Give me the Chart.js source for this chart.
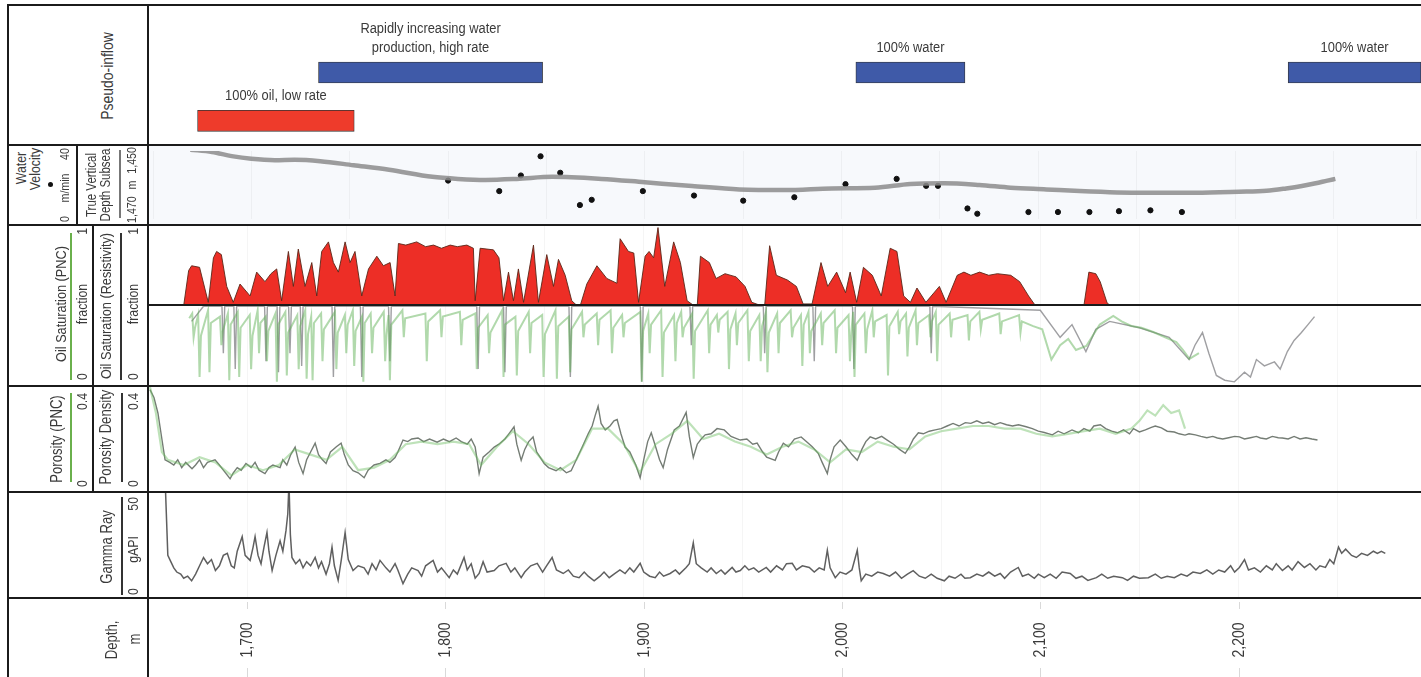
<!DOCTYPE html>
<html>
<head>
<meta charset="utf-8">
<script src="https://cdn.jsdelivr.net/npm/chart.js@4.4.1/dist/chart.umd.min.js"></script>
<style>
body { margin: 0; background: #fff; font-family: "Liberation Sans", sans-serif; color: #3a3a3a; }
#fig { position: relative; width: 1421px; height: 677px; overflow: hidden; }
canvas { position: absolute; }
.ln { position: absolute; background: #1b1b1b; }
.rot { position: absolute; transform: translate(-50%, -50%) rotate(-90deg) scaleX(0.82); white-space: nowrap; font-size: 15px; line-height: 1; }
.scale { display: flex; justify-content: space-between; }
.leg { position: absolute; width: 1.5px; }
</style>
</head>
<body>
<div id="fig"></div>
<script>
// depth axis
const depthTicks = [1700, 1800, 1900, 2000, 2100, 2200];
const depthTickLabels = ['1,700', '1,800', '1,900', '2,000', '2,100', '2,200'];

// pseudo-inflow intervals
const inflowText = ['100% oil, low rate', 'Rapidly increasing water\nproduction, high rate', '100% water', '100% water'];
const inflowFrom = [1675, 1736, 2007, 2225];
const inflowTo = [1754, 1849, 2062, 2292];
const inflowRow = ['oil', 'water', 'water', 'water'];

// true vertical depth subsea, m
const tvdDepth = [1669, 1680, 1690, 1700, 1712, 1722, 1735, 1752, 1770, 1792, 1805, 1819, 1835, 1853, 1878, 1900, 1924, 1948, 1971, 1995, 2017, 2035, 2052, 2070, 2086, 2104, 2121, 2140, 2156, 2180, 2202, 2216, 2226, 2234, 2241, 2247, 2251];
const tvd = [1449.6, 1450.3, 1451.5, 1452.3, 1452.7, 1452.6, 1453, 1454.2, 1455.5, 1457.6, 1458.2, 1458.5, 1458.2, 1457.6, 1458.2, 1459.2, 1460.3, 1461.3, 1461.5, 1461, 1460.8, 1459.7, 1459.5, 1460, 1460.8, 1461.3, 1461.8, 1462.2, 1462.3, 1462.3, 1462, 1461.7, 1461, 1460.3, 1459.5, 1458.7, 1458.2];

// water velocity, m/min
const velDepth = [1800, 1826, 1837, 1847, 1857, 1867, 1873, 1899, 1925, 1950, 1976, 2002, 2028, 2043, 2049, 2064, 2069, 2095, 2110, 2126, 2141, 2157, 2173];
const velocity = [22.6, 16.4, 25.6, 36.9, 27.2, 8.2, 11.3, 16.4, 13.8, 10.8, 12.8, 20.5, 23.6, 19.5, 19.5, 6.2, 3.1, 4.1, 4.1, 4.1, 4.6, 5.1, 4.1];

// oil saturation, upper (shaded) curve
const satUpDepth = [1668, 1670.5, 1672, 1676, 1680.4, 1683, 1684.6, 1687, 1689.7, 1693, 1696.4, 1701.5, 1704.8, 1709, 1712, 1714.9, 1717.4, 1720.8, 1723.3, 1725.8, 1729.2, 1732.6, 1735.1, 1737.6, 1741, 1743.5, 1746, 1749.4, 1751.9, 1754.4, 1757.8, 1761.2, 1765.4, 1768.7, 1772.1, 1774.6, 1776.3, 1780, 1785.5, 1790, 1794, 1798, 1802.4, 1806, 1810.8, 1814.1, 1815, 1817.5, 1824.2, 1827, 1829.3, 1831.8, 1834.3, 1836.8, 1839.4, 1844.4, 1846.9, 1851.1, 1854.5, 1857, 1860.4, 1863.7, 1866.3, 1868, 1871.3, 1876.4, 1881.4, 1886.5, 1888.1, 1892.3, 1895, 1897.4, 1900.7, 1902.7, 1905, 1907.2, 1910.6, 1915.1, 1918.5, 1921.9, 1925.2, 1927, 1928.6, 1933.1, 1936.5, 1941, 1946.6, 1951.1, 1954.5, 1959, 1961, 1963.5, 1966.9, 1972.5, 1977, 1980.4, 1984.9, 1989.4, 1992.8, 1997.3, 2001.8, 2004.1, 2007.4, 2010.8, 2015.3, 2019.8, 2024.3, 2027.7, 2031.1, 2034.5, 2037.8, 2042.3, 2049.1, 2052.5, 2058.1, 2061.5, 2065, 2069.4, 2074, 2078.4, 2085.1, 2089.6, 2094.1, 2097.5, 2122, 2124.5, 2128, 2130.2, 2133.6, 2135];
const satUp = [0.5, 0.72, 0.75, 0.74, 0.52, 0.8, 0.84, 0.82, 0.62, 0.52, 0.635, 0.56, 0.71, 0.65, 0.7, 0.73, 0.53, 0.84, 0.62, 0.855, 0.62, 0.77, 0.56, 0.84, 0.9, 0.77, 0.71, 0.9, 0.77, 0.84, 0.56, 0.73, 0.81, 0.75, 0.77, 0.56, 0.89, 0.88, 0.9, 0.87, 0.88, 0.86, 0.88, 0.87, 0.88, 0.86, 0.53, 0.86, 0.85, 0.8, 0.53, 0.71, 0.53, 0.73, 0.52, 0.88, 0.52, 0.82, 0.62, 0.79, 0.69, 0.53, 0.5, 0.5, 0.635, 0.75, 0.67, 0.64, 0.92, 0.84, 0.83, 0.52, 0.81, 0.84, 0.8, 0.99, 0.62, 0.9, 0.77, 0.53, 0.5, 0.5, 0.81, 0.77, 0.67, 0.7, 0.68, 0.62, 0.52, 0.5, 0.5, 0.876, 0.69, 0.66, 0.62, 0.51, 0.51, 0.77, 0.62, 0.71, 0.58, 0.71, 0.52, 0.74, 0.69, 0.56, 0.86, 0.84, 0.56, 0.52, 0.61, 0.52, 0.62, 0.52, 0.69, 0.71, 0.69, 0.71, 0.69, 0.7, 0.69, 0.65, 0.56, 0.5, 0.5, 0.71, 0.7, 0.65, 0.52, 0.5];

// oil saturation (PNC), green
const satPncDepth = [1670.8, 1672.3, 1673, 1673.7, 1675.3, 1676, 1676.7, 1680.3, 1681, 1681.7, 1686.3, 1687, 1687.7, 1690.3, 1691, 1691.7, 1695.3, 1696, 1696.7, 1701.3, 1702, 1702.7, 1705.3, 1706, 1706.7, 1709.3, 1710, 1710.7, 1714.3, 1715, 1715.7, 1719.3, 1720, 1720.7, 1725.3, 1726, 1726.7, 1729.3, 1730, 1730.7, 1732.3, 1733, 1733.7, 1737.3, 1738, 1738.7, 1744.3, 1745, 1745.7, 1749.3, 1750, 1750.7, 1753.3, 1754, 1754.7, 1757.9, 1758.6, 1759.3, 1762.3, 1763, 1763.7, 1768.9, 1769.6, 1770.3, 1771.3, 1772, 1772.7, 1778.3, 1779, 1779.7, 1789.9, 1790.6, 1791.3, 1797.3, 1798, 1798.7, 1807.3, 1808, 1808.7, 1815.1, 1815.8, 1816.5, 1821.3, 1822, 1822.7, 1828.6, 1829.3, 1830, 1835.3, 1836, 1836.7, 1842, 1842.7, 1843.4, 1848.8, 1849.5, 1850.2, 1855.5, 1856.2, 1856.9, 1862.2, 1862.9, 1863.6, 1868.9, 1869.6, 1870.3, 1876.3, 1877, 1877.7, 1883.3, 1884, 1884.7, 1889.1, 1889.8, 1890.5, 1898.3, 1899, 1899.7, 1902.3, 1903, 1903.7, 1908.8, 1909.5, 1910.2, 1915.3, 1916, 1916.7, 1918.9, 1919.6, 1920.3, 1924.5, 1925.2, 1925.9, 1932.3, 1933, 1933.7, 1936.9, 1937.6, 1938.3, 1942.3, 1943, 1943.7, 1946.3, 1947, 1947.7, 1952.3, 1953, 1953.7, 1958.3, 1959, 1959.7, 1961.7, 1962.4, 1963.1, 1967.3, 1968, 1968.7, 1974.1, 1974.8, 1975.5, 1979.3, 1980, 1980.7, 1983.1, 1983.8, 1984.5, 1989.3, 1990, 1990.7, 1996.3, 1997, 1997.7, 2003.3, 2004, 2004.7, 2005.6, 2006.3, 2007, 2011.3, 2012, 2012.7, 2015.3, 2016, 2016.7, 2022.5, 2023.2, 2023.9, 2028.1, 2028.8, 2029.5, 2032.3, 2033, 2033.7, 2037.1, 2037.8, 2038.5, 2043.9, 2044.6, 2045.3, 2047.3, 2048, 2048.7, 2054.3, 2055, 2055.7, 2063.3, 2064, 2064.7, 2069.3, 2070, 2070.7, 2079.3, 2080, 2080.7, 2089.3, 2090, 2090.7, 2096.4, 2101, 2105.6, 2110, 2114.1, 2118, 2123.2, 2130, 2136.8, 2141, 2145.9, 2151, 2157, 2163, 2168.6, 2172, 2175.2, 2180];
const satPnc = [0.42, 0.45, 0.3, 0.36, 0.44, 0.05, 0.31, 0.47, 0.08, 0.39, 0.43, 0.25, 0.34, 0.45, 0.03, 0.38, 0.46, 0.05, 0.36, 0.44, 0.1, 0.31, 0.47, 0.2, 0.39, 0.43, 0.15, 0.34, 0.45, 0.02, 0.38, 0.46, 0.06, 0.33, 0.44, 0.1, 0.37, 0.47, 0.04, 0.32, 0.43, 0.03, 0.39, 0.45, 0.15, 0.35, 0.46, 0.1, 0.33, 0.44, 0.2, 0.38, 0.47, 0.12, 0.34, 0.43, 0.02, 0.39, 0.45, 0.2, 0.36, 0.46, 0.15, 0.32, 0.44, 0.03, 0.38, 0.47, 0.3, 0.42, 0.45, 0.15, 0.4, 0.47, 0.3, 0.43, 0.46, 0.25, 0.41, 0.45, 0.1, 0.36, 0.44, 0.2, 0.33, 0.47, 0.05, 0.38, 0.43, 0.06, 0.34, 0.46, 0.2, 0.39, 0.44, 0.05, 0.32, 0.47, 0.04, 0.37, 0.43, 0.08, 0.35, 0.46, 0.3, 0.38, 0.45, 0.25, 0.41, 0.47, 0.2, 0.36, 0.44, 0.3, 0.39, 0.46, 0.02, 0.34, 0.45, 0.2, 0.38, 0.47, 0.05, 0.33, 0.44, 0.15, 0.39, 0.46, 0.3, 0.36, 0.45, 0.04, 0.34, 0.47, 0.2, 0.38, 0.44, 0.33, 0.41, 0.46, 0.1, 0.35, 0.45, 0.25, 0.39, 0.47, 0.15, 0.34, 0.44, 0.15, 0.37, 0.46, 0.08, 0.33, 0.45, 0.2, 0.39, 0.47, 0.3, 0.36, 0.44, 0.12, 0.38, 0.46, 0.2, 0.34, 0.45, 0.25, 0.39, 0.47, 0.2, 0.36, 0.44, 0.15, 0.33, 0.46, 0.05, 0.38, 0.45, 0.2, 0.35, 0.47, 0.3, 0.4, 0.44, 0.06, 0.37, 0.46, 0.32, 0.4, 0.45, 0.18, 0.36, 0.47, 0.25, 0.39, 0.44, 0.3, 0.4, 0.46, 0.15, 0.38, 0.45, 0.3, 0.41, 0.44, 0.28, 0.4, 0.46, 0.35, 0.41, 0.45, 0.32, 0.4, 0.44, 0.33, 0.4, 0.37, 0.35, 0.16, 0.25, 0.29, 0.22, 0.245, 0.38, 0.434, 0.4, 0.371, 0.36, 0.333, 0.3, 0.27, 0.22, 0.164, 0.2];

// oil saturation (resistivity), dark
const satResDepth = [1672, 1678, 1687.3, 1688, 1688.7, 1693.3, 1694, 1694.7, 1708.8, 1709.5, 1710.2, 1715.1, 1715.8, 1716.5, 1720.9, 1721.6, 1722.3, 1726.8, 1727.5, 1728.2, 1742.8, 1743.5, 1744.2, 1757.1, 1757.8, 1758.5, 1771.3, 1772, 1772.7, 1815.8, 1816.5, 1817.2, 1829.3, 1830, 1830.7, 1862.3, 1863, 1863.7, 1898.3, 1899, 1899.7, 1923.3, 1924, 1924.7, 1960.3, 1961, 1961.7, 1985.3, 1986, 1986.7, 2005.3, 2006, 2006.7, 2044.3, 2045, 2045.7, 2100, 2110, 2116, 2123, 2128, 2135, 2150, 2165, 2175, 2178, 2181.8, 2185, 2188.8, 2193, 2197.9, 2203, 2206, 2209, 2213, 2218.1, 2221, 2224.6, 2228, 2231.7, 2235, 2238.3];
const satRes = [0.4, 0.495, 0.495, 0.2, 0.495, 0.495, 0.1, 0.495, 0.495, 0.15, 0.495, 0.495, 0.08, 0.495, 0.495, 0.2, 0.495, 0.495, 0.12, 0.495, 0.495, 0.05, 0.495, 0.495, 0.05, 0.495, 0.495, 0.15, 0.495, 0.495, 0.1, 0.495, 0.495, 0.08, 0.495, 0.495, 0.05, 0.495, 0.495, 0.02, 0.495, 0.495, 0.25, 0.495, 0.495, 0.2, 0.495, 0.495, 0.15, 0.495, 0.495, 0.1, 0.495, 0.495, 0.2, 0.495, 0.47, 0.3, 0.38, 0.21, 0.35, 0.4, 0.36, 0.3, 0.16, 0.25, 0.33, 0.2, 0.06, 0.03, 0.02, 0.08, 0.05, 0.16, 0.12, 0.145, 0.1, 0.21, 0.28, 0.33, 0.38, 0.43];

// porosity density
const porDepth = [1651, 1653, 1655, 1657, 1658.6, 1661, 1663, 1665, 1667, 1669, 1672.2, 1674, 1676, 1678, 1680, 1683.8, 1686, 1688, 1691.4, 1693, 1695, 1697, 1699.4, 1702, 1704, 1706, 1709, 1711, 1713, 1716.6, 1718, 1720, 1722, 1724.2, 1726, 1728.2, 1730, 1732, 1734.3, 1736, 1738, 1739.8, 1742, 1745, 1747.4, 1749, 1751, 1753.4, 1756, 1759, 1761, 1764, 1767, 1770, 1772, 1774.6, 1776, 1778.6, 1781, 1783, 1786.2, 1789, 1792, 1795.8, 1799, 1802, 1805.4, 1808, 1811, 1813, 1815, 1817, 1819, 1822, 1824.6, 1827, 1830, 1832, 1834.6, 1836, 1838.2, 1840, 1842, 1844.2, 1846, 1849.8, 1852, 1855.8, 1858, 1861, 1863.4, 1866, 1869, 1872, 1874, 1875.5, 1877, 1878.5, 1880.6, 1883, 1885, 1886.6, 1888.5, 1890.6, 1893, 1896, 1898.2, 1900, 1902, 1903.8, 1906, 1908, 1909.8, 1912, 1915.4, 1918, 1921.4, 1923, 1925, 1927, 1929, 1931, 1934, 1937, 1940.6, 1944, 1948.7, 1952, 1955, 1957.2, 1960, 1962, 1966.3, 1968, 1970.4, 1973, 1976, 1979.4, 1982, 1985, 1988, 1990, 1992.6, 1994, 1996, 1999.1, 2002, 2005, 2007.7, 2010, 2012, 2014.2, 2017, 2020, 2022.8, 2026, 2029, 2031.9, 2034, 2036, 2038.5, 2041, 2044, 2047, 2050, 2053, 2056, 2059, 2062.2, 2065, 2068, 2071, 2074, 2077, 2079.8, 2083, 2086, 2089, 2092.9, 2096, 2099, 2102, 2106.1, 2109, 2112, 2116, 2119.2, 2122, 2125, 2127, 2130.3, 2133, 2136, 2138.9, 2142, 2145, 2147, 2150, 2153, 2156, 2158, 2161.1, 2164, 2167.6, 2170, 2173, 2175, 2178.2, 2181, 2184, 2187, 2189.3, 2192, 2195, 2198, 2200.4, 2203, 2206, 2209, 2211, 2214, 2217, 2220, 2222.1, 2225, 2228, 2231, 2234, 2237, 2239.8];
const porDensity = [0.39, 0.36, 0.3, 0.2, 0.12, 0.11, 0.1, 0.12, 0.09, 0.11, 0.086, 0.1, 0.12, 0.09, 0.11, 0.12, 0.1, 0.08, 0.047, 0.07, 0.09, 0.08, 0.106, 0.09, 0.11, 0.08, 0.067, 0.09, 0.1, 0.09, 0.12, 0.1, 0.14, 0.169, 0.11, 0.067, 0.12, 0.15, 0.184, 0.14, 0.12, 0.106, 0.15, 0.17, 0.184, 0.14, 0.1, 0.078, 0.07, 0.051, 0.08, 0.1, 0.106, 0.12, 0.11, 0.129, 0.15, 0.196, 0.19, 0.2, 0.204, 0.19, 0.2, 0.188, 0.2, 0.19, 0.204, 0.19, 0.18, 0.2, 0.169, 0.067, 0.13, 0.15, 0.169, 0.18, 0.2, 0.22, 0.247, 0.18, 0.118, 0.16, 0.19, 0.208, 0.15, 0.106, 0.09, 0.078, 0.09, 0.07, 0.078, 0.12, 0.169, 0.22, 0.25, 0.29, 0.326, 0.26, 0.235, 0.25, 0.27, 0.275, 0.22, 0.169, 0.15, 0.1, 0.051, 0.12, 0.19, 0.224, 0.17, 0.12, 0.09, 0.16, 0.235, 0.25, 0.302, 0.21, 0.129, 0.18, 0.2, 0.216, 0.22, 0.24, 0.235, 0.21, 0.196, 0.2, 0.18, 0.184, 0.15, 0.13, 0.118, 0.15, 0.184, 0.17, 0.2, 0.208, 0.19, 0.17, 0.145, 0.11, 0.067, 0.12, 0.17, 0.196, 0.17, 0.14, 0.118, 0.16, 0.19, 0.208, 0.2, 0.21, 0.196, 0.18, 0.16, 0.145, 0.17, 0.2, 0.224, 0.22, 0.23, 0.235, 0.24, 0.25, 0.26, 0.25, 0.263, 0.26, 0.27, 0.26, 0.265, 0.255, 0.263, 0.255, 0.25, 0.255, 0.247, 0.24, 0.23, 0.225, 0.216, 0.23, 0.22, 0.235, 0.224, 0.24, 0.23, 0.25, 0.255, 0.24, 0.23, 0.224, 0.235, 0.22, 0.24, 0.227, 0.235, 0.245, 0.25, 0.243, 0.23, 0.227, 0.22, 0.215, 0.22, 0.216, 0.21, 0.205, 0.21, 0.204, 0.2, 0.205, 0.21, 0.208, 0.2, 0.205, 0.21, 0.204, 0.2, 0.21, 0.205, 0.204, 0.2, 0.21, 0.2, 0.205, 0.2, 0.196];

// porosity (PNC), green
const porPncDepth = [1651, 1654, 1657, 1660, 1668, 1676, 1684, 1692, 1700, 1708, 1716, 1724, 1732, 1740, 1748, 1756, 1764, 1772, 1780, 1788, 1796, 1804, 1812, 1818, 1826, 1834, 1842, 1850, 1858, 1866, 1874, 1882, 1890, 1898, 1906, 1914, 1922, 1930, 1938, 1946, 1954, 1962, 1970, 1978, 1986, 1994, 2002, 2010, 2018, 2026, 2034, 2042, 2050, 2058, 2066, 2074, 2082, 2090, 2098, 2106, 2114, 2122, 2130, 2138, 2146, 2150, 2154, 2158, 2162, 2166, 2170, 2173];
const porPnc = [0.4, 0.3, 0.15, 0.12, 0.1, 0.13, 0.11, 0.06, 0.1, 0.08, 0.1, 0.16, 0.14, 0.12, 0.17, 0.08, 0.09, 0.12, 0.18, 0.19, 0.18, 0.19, 0.18, 0.1, 0.17, 0.23, 0.18, 0.11, 0.08, 0.12, 0.24, 0.24, 0.18, 0.07, 0.18, 0.22, 0.27, 0.2, 0.22, 0.19, 0.17, 0.14, 0.17, 0.19, 0.16, 0.11, 0.16, 0.15, 0.19, 0.17, 0.16, 0.21, 0.23, 0.24, 0.25, 0.25, 0.24, 0.24, 0.22, 0.21, 0.22, 0.23, 0.24, 0.22, 0.24, 0.27, 0.31, 0.29, 0.33, 0.3, 0.31, 0.24];

// gamma ray, gAPI
const grDepth = [1656, 1658.5, 1660, 1661.5, 1663, 1664.5, 1666.5, 1668, 1670, 1672, 1674, 1676, 1678, 1680, 1682, 1684, 1686, 1688, 1690, 1692, 1693.5, 1695, 1697.5, 1699, 1701.5, 1703, 1704, 1705.5, 1707, 1708.5, 1710, 1711, 1712.6, 1714.5, 1716.6, 1718, 1719.6, 1720.5, 1721.1, 1721.8, 1722.6, 1724.5, 1726.5, 1728.2, 1730, 1732, 1734.3, 1736, 1737.5, 1739.8, 1741.5, 1742.8, 1744, 1745.9, 1747.5, 1749.4, 1751, 1753.4, 1756, 1759, 1761, 1763, 1765, 1767, 1770, 1772, 1774.6, 1776, 1778.6, 1781, 1783, 1786.2, 1788, 1790, 1793.8, 1796, 1798, 1801.9, 1804, 1806, 1809.4, 1811, 1813, 1815, 1817, 1819, 1821, 1824.6, 1827, 1830.6, 1833, 1835, 1838.2, 1840, 1843, 1846.3, 1849, 1851, 1853.8, 1856, 1859.4, 1862, 1864.5, 1867.4, 1870, 1872, 1875, 1878, 1880, 1882.6, 1885, 1888, 1890.6, 1893, 1895, 1898.2, 1900, 1903, 1905.8, 1908, 1910, 1913.3, 1916, 1918, 1921.4, 1923, 1925, 1926.5, 1929, 1932, 1934, 1936.6, 1939, 1941, 1944.6, 1946.5, 1948.7, 1951, 1953, 1955.5, 1958, 1961.8, 1964, 1967, 1970, 1972, 1974.9, 1977, 1980, 1983.5, 1986, 1988.5, 1991, 1992.6, 1994, 1996.6, 1999, 2002, 2005, 2007.7, 2008.7, 2009.7, 2012, 2015, 2018, 2020.8, 2024, 2027, 2030, 2033, 2035.9, 2039, 2042, 2045, 2048, 2051.6, 2054, 2057, 2060, 2062, 2064.7, 2068, 2071, 2074, 2077, 2079.8, 2082, 2085, 2088.9, 2091, 2094, 2097, 2099, 2102, 2105, 2108, 2111, 2115.1, 2118, 2121, 2124, 2128.3, 2131, 2134, 2137, 2141.4, 2144, 2147, 2150, 2154.5, 2158, 2161, 2164, 2167.6, 2171, 2174, 2177, 2180.7, 2184, 2187, 2190, 2193, 2196, 2198, 2200.4, 2203, 2205, 2208, 2211, 2214, 2217, 2219, 2222.1, 2225, 2227, 2230, 2233.2, 2236, 2239, 2241, 2243.8, 2246, 2248, 2250.4, 2252, 2254, 2257, 2259.4, 2262, 2265, 2268, 2270, 2272, 2274];
const gammaRay = [60, 60, 20, 17, 14, 12, 11, 9, 10, 7.8, 11, 15, 19, 16, 18, 12.7, 15, 20, 21, 15, 14, 22, 29, 20, 17.6, 24, 29, 20, 16, 24, 31, 22, 12.7, 20, 27, 22, 32, 40, 55, 30, 19, 16, 18, 14, 17, 15, 19, 14, 17, 11, 16, 24, 15, 8, 18, 31, 18, 12.7, 15, 14, 11, 16, 13, 17.6, 14, 12, 16, 13, 6.4, 11, 14, 12.7, 10, 15, 17.6, 12, 14, 9.3, 13, 11, 19, 13, 16, 9, 11.3, 17, 12, 12.7, 15, 16.2, 12, 14, 9.3, 12, 15, 16.2, 12, 15, 19, 13, 11.3, 13, 10, 9.3, 12, 10, 7.8, 10, 12, 9.3, 11, 13, 11.3, 14, 12, 16.2, 12, 10, 9.3, 12, 10, 11.3, 13, 11, 14.2, 16, 26, 16, 14, 12, 14, 11.3, 13, 11, 14.2, 12, 12.7, 15, 13, 14, 12, 14.2, 12, 15, 13, 16, 16.2, 13, 15, 14.2, 12, 14, 13, 22.5, 14, 9.3, 12, 11, 13, 22.5, 14, 7.8, 11, 10, 12, 11.3, 10, 12, 9, 11, 12.7, 10, 9, 11, 9, 7.8, 10, 9, 11, 9, 9.3, 11, 10, 12, 10, 11.3, 9, 12, 14.2, 10, 11, 9, 11, 9.3, 11, 9, 12, 11.3, 9, 10, 8, 9.3, 11, 9, 10, 9.3, 8, 10, 9, 9.3, 11, 9, 10, 9.3, 11, 10, 12, 11.3, 13, 11, 13, 12, 15, 12, 14.2, 18, 13, 14, 12, 15, 13, 16, 12.7, 15, 13, 17, 14.2, 16, 13, 15, 14.2, 18, 16, 24, 21, 23, 20, 19, 21, 20, 22, 21, 22, 21];

const FONT = '"Liberation Sans", sans-serif';
const NARROW = 0.82;
const fig = document.getElementById('fig');
const PLOT_LEFT = 148, PLOT_W = 1273;

function pts(xs, ys) { return xs.map((x, i) => ({ x: x, y: ys[i] })); }

function depthScale(grid) {
  return {
    type: 'linear', min: 1650, max: 2292,
    display: grid, border: { display: false },
    grid: { color: 'rgba(0,0,0,0.04)', drawTicks: false },
    ticks: { display: false, stepSize: 50 }
  };
}

function addCanvas(top, height, bg) {
  const c = document.createElement('canvas');
  c.width = PLOT_W; c.height = height;
  c.style.left = PLOT_LEFT + 'px'; c.style.top = top + 'px';
  if (bg) c.style.background = bg;
  fig.appendChild(c);
  return c;
}

function baseOptions(scales) {
  return {
    responsive: false, animation: false,
    layout: { padding: 0 },
    plugins: { legend: { display: false }, tooltip: { enabled: false } },
    scales: scales
  };
}

// soften the log traces a little, like a scanned print
const softPlugin = {
  id: 'soft',
  beforeDatasetsDraw(chart) { chart.ctx.save(); chart.ctx.filter = 'blur(0.45px)'; },
  afterDatasetsDraw(chart) { chart.ctx.restore(); }
};

// ---- pseudo-inflow bars ----
const inflowRows = ['', 'water', 'oil'];
const inflowLabelPlugin = {
  id: 'inflowLabels',
  afterDatasetsDraw(chart) {
    const ctx = chart.ctx, xs = chart.scales.x, ys = chart.scales.y;
    ctx.save();
    ctx.font = '14px ' + FONT;
    ctx.fillStyle = '#3a3a3a';
    ctx.textAlign = 'center';
    ctx.textBaseline = 'middle';
    inflowText.forEach((t, i) => {
      const cx = (xs.getPixelForValue(inflowFrom[i]) + xs.getPixelForValue(inflowTo[i])) / 2;
      const top = ys.getPixelForValue(inflowRows.indexOf(inflowRow[i])) - 10.5;
      const lines = t.split('\n').reverse();
      lines.forEach((l, j) => {
        ctx.save();
        ctx.translate(cx, top - 14 - j * 19);
        ctx.scale(0.92, 1);
        ctx.fillText(l, 0, 0);
        ctx.restore();
      });
    });
    ctx.restore();
  }
};
new Chart(addCanvas(0, 145), {
  type: 'bar',
  data: {
    labels: inflowRows,
    datasets: inflowText.map((t, i) => ({
      data: inflowRows.map(r => r === inflowRow[i] ? [inflowFrom[i], inflowTo[i]] : null),
      backgroundColor: inflowRow[i] === 'oil' ? '#ee3b2b' : '#3f5aa8',
      borderColor: '#333', borderWidth: 0.8, borderSkipped: false,
      barThickness: 21, grouped: false
    }))
  },
  options: Object.assign(baseOptions({ x: depthScale(false), y: { display: false } }), { indexAxis: 'y' }),
  plugins: [inflowLabelPlugin]
});

// ---- water velocity and TVD ----
new Chart(addCanvas(146, 78, '#f7f9fc'), {
  type: 'line',
  data: {
    datasets: [
      { data: pts(tvdDepth, tvd), yAxisID: 'tvd', borderColor: 'rgba(140,140,140,0.85)', borderWidth: 4.5, pointRadius: 0, cubicInterpolationMode: 'monotone' },
      { type: 'scatter', data: pts(velDepth, velocity), yAxisID: 'vel', backgroundColor: '#111', borderColor: '#111', pointRadius: 2.6 }
    ]
  },
  options: baseOptions({
    x: depthScale(true),
    tvd: { display: false, min: 1450, max: 1470, reverse: true },
    vel: { display: false, min: 0, max: 40 }
  })
});

// ---- oil saturation ----
new Chart(addCanvas(226, 159), {
  type: 'line',
  data: {
    datasets: [
      { data: pts(satPncDepth, satPnc), borderColor: 'rgba(100,180,90,0.5)', borderWidth: 2, pointRadius: 0 },
      { data: pts(satResDepth, satRes), borderColor: 'rgba(80,80,85,0.55)', borderWidth: 1.4, pointRadius: 0 },
      { data: pts(satUpDepth, satUp), borderColor: 'rgba(90,40,25,0.9)', borderWidth: 1, pointRadius: 0, fill: { value: 0.5 }, backgroundColor: 'rgba(236,30,22,0.93)' }
    ]
  },
  options: baseOptions({ x: depthScale(true), y: { display: false, min: 0, max: 1 } }),
  plugins: [softPlugin]
});

// ---- porosity ----
new Chart(addCanvas(387, 104), {
  type: 'line',
  data: {
    datasets: [
      { data: pts(porPncDepth, porPnc), borderColor: 'rgba(110,190,100,0.45)', borderWidth: 2.2, pointRadius: 0 },
      { data: pts(porDepth, porDensity), borderColor: 'rgba(70,80,70,0.75)', borderWidth: 1.4, pointRadius: 0 }
    ]
  },
  options: baseOptions({ x: depthScale(true), y: { display: false, min: 0, max: 0.4 } }),
  plugins: [softPlugin]
});

// ---- gamma ray ----
new Chart(addCanvas(493, 104), {
  type: 'line',
  data: {
    datasets: [
      { data: pts(grDepth, gammaRay), borderColor: 'rgba(55,55,55,0.8)', borderWidth: 1.5, pointRadius: 0 }
    ]
  },
  options: baseOptions({ x: depthScale(true), y: { display: false, min: 0, max: 50 } }),
  plugins: [softPlugin]
});

// ---- depth track ----
const depthLabelPlugin = {
  id: 'depthLabels',
  afterDraw(chart) {
    const ctx = chart.ctx, xs = chart.scales.x;
    ctx.save();
    ctx.font = '17px ' + FONT;
    ctx.fillStyle = '#3a3a3a';
    ctx.strokeStyle = 'rgba(0,0,0,0.15)';
    ctx.lineWidth = 1;
    depthTicks.forEach((d, i) => {
      const x = Math.round(xs.getPixelForValue(d)) + 0.5;
      ctx.beginPath();
      ctx.moveTo(x, 3); ctx.lineTo(x, 10);
      ctx.moveTo(x, 69); ctx.lineTo(x, 78);
      ctx.stroke();
      ctx.save();
      ctx.translate(x, 41);
      ctx.rotate(-Math.PI / 2);
      ctx.scale(NARROW, 1);
      ctx.textAlign = 'center';
      ctx.textBaseline = 'middle';
      ctx.fillText(depthTickLabels[i], 0, 0);
      ctx.restore();
    });
    ctx.restore();
  }
};
new Chart(addCanvas(599, 78), {
  type: 'line',
  data: { datasets: [{ data: [] }] },
  options: baseOptions({ x: depthScale(false), y: { display: false, min: 0, max: 1 } }),
  plugins: [depthLabelPlugin]
});

// ---- frame lines ----
function line(x, y, w, h) {
  const d = document.createElement('div');
  d.className = 'ln';
  Object.assign(d.style, { left: x + 'px', top: y + 'px', width: w + 'px', height: h + 'px' });
  fig.appendChild(d);
}
line(7, 4, 1414, 2);
[144, 224, 385, 491, 597].forEach(y => line(7, y, 1414, 2));
line(148, 304, 1273, 2);
line(7, 4, 2, 673);
line(147, 4, 2, 673);
line(76, 144, 2, 81);
line(92, 224, 2, 268);

// ---- header text ----
function txt(cx, cy, html, size, width) {
  const d = document.createElement('div');
  d.className = 'rot' + (width ? ' scale' : '');
  d.style.left = cx + 'px'; d.style.top = cy + 'px';
  d.style.fontSize = (size || 15) + 'px';
  if (width) d.style.width = (width / NARROW) + 'px';
  d.innerHTML = html;
  fig.appendChild(d);
}
function leg(x, y1, y2, color) {
  const d = document.createElement('div');
  d.className = 'leg';
  Object.assign(d.style, { left: x + 'px', top: y1 + 'px', height: (y2 - y1) + 'px', background: color });
  fig.appendChild(d);
}
function dot(x, y) {
  const d = document.createElement('div');
  Object.assign(d.style, { position: 'absolute', left: (x - 2.5) + 'px', top: (y - 2.5) + 'px', width: '5px', height: '5px', borderRadius: '50%', background: '#111' });
  fig.appendChild(d);
}

txt(107, 76, 'Pseudo-inflow', 17);

txt(20, 168, 'Water', 15);
txt(34, 169, 'Velocity', 15);
dot(50, 184);
txt(64, 185, '<span>0</span><span>m/min</span><span>40</span>', 13, 74);
txt(91, 185, 'True Vertical', 14);
txt(105, 185, 'Depth Subsea', 14);
leg(119, 150, 218, '#777');
txt(131, 185, '<span>1,470</span><span>m</span><span>1,450</span>', 13, 76);

txt(61, 304, 'Oil Saturation (PNC)', 15.5);
leg(70, 233, 380, '#6ab04c');
txt(81, 304, '<span>0</span><span>fraction</span><span>1</span>', 15, 152);
txt(106, 306, 'Oil Saturation (Resistivity)', 15.5);
leg(120, 233, 380, '#333');
txt(132, 304, '<span>0</span><span>fraction</span><span>1</span>', 15, 152);

txt(57, 439, 'Porosity (PNC)', 16);
leg(70, 393, 482, '#6ab04c');
txt(81, 440, '<span>0</span><span>0.4</span>', 15, 94);
txt(106, 437, 'Porosity Density', 16);
leg(121, 393, 482, '#333');
txt(132, 440, '<span>0</span><span>0.4</span>', 15, 94);

txt(107, 547, 'Gamma Ray', 16);
leg(121, 497, 595, '#333');
txt(132, 546, '<span>0</span><span>gAPI</span><span>50</span>', 15, 98);

txt(112, 640, 'Depth,', 16);
txt(135, 639, 'm', 16);
</script>
</body>
</html>
